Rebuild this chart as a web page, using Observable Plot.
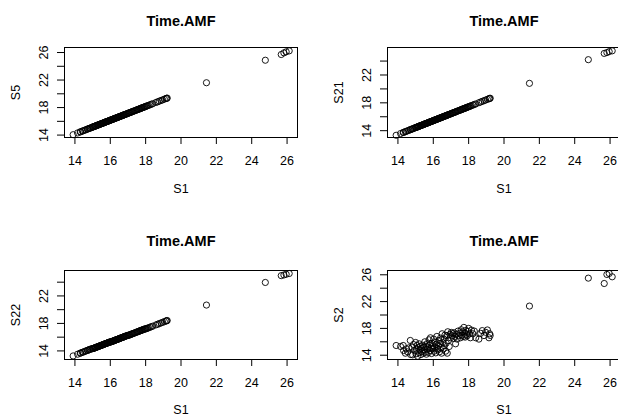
<!DOCTYPE html>
<html><head><meta charset="utf-8">
<script src="https://cdn.jsdelivr.net/npm/d3@7"></script>
<script src="https://cdn.jsdelivr.net/npm/@observablehq/plot@0.6"></script>
<style>
html,body{margin:0;padding:0;background:#fff;}
#chart{position:relative;width:618px;height:415px;overflow:hidden;background:#fff;}
#chart svg{position:absolute;}
</style></head><body><div id="chart"></div>
<script>
const S1 = [
13.90,14.15,14.30,14.32,14.42,14.47,14.55,14.62,14.70,14.72,
14.80,14.83,14.88,14.95,15.00,15.02,15.05,15.08,15.12,15.15,
15.18,15.20,15.24,15.27,15.30,15.33,15.36,15.40,15.43,15.46,
15.50,15.52,15.55,15.58,15.61,15.64,15.67,15.70,15.73,15.76,
15.78,15.81,15.84,15.87,15.90,15.93,15.96,15.99,16.02,16.05,
16.08,16.11,16.14,16.17,16.20,16.23,16.26,16.29,16.32,16.35,
16.38,16.41,16.44,16.47,16.50,16.53,16.56,16.60,16.63,16.66,
16.70,16.73,16.76,16.79,16.82,16.86,16.90,16.94,16.98,17.02,
17.06,17.10,17.14,17.18,17.22,17.26,17.30,17.35,17.40,17.45,
17.50,17.54,17.58,17.62,17.66,17.70,17.73,17.77,17.80,17.84,
17.88,17.92,17.96,18.00,18.05,18.10,18.16,18.24,18.32,18.40,
18.58,18.68,18.77,18.87,18.96,19.06,19.15,19.19,19.22,
21.44,24.77,25.67,25.82,25.95,26.12];

const S5 = [
14.06,14.31,14.46,14.48,14.58,14.63,14.71,14.78,14.86,14.88,
14.96,14.99,15.04,15.11,15.16,15.18,15.21,15.24,15.28,15.31,
15.34,15.36,15.40,15.43,15.46,15.49,15.52,15.56,15.59,15.62,
15.66,15.68,15.71,15.74,15.77,15.80,15.83,15.86,15.89,15.92,
15.94,15.97,16.00,16.03,16.06,16.09,16.12,16.15,16.18,16.21,
16.24,16.27,16.30,16.33,16.36,16.39,16.42,16.45,16.48,16.51,
16.54,16.57,16.60,16.63,16.66,16.69,16.72,16.76,16.79,16.82,
16.86,16.89,16.92,16.95,16.98,17.02,17.06,17.10,17.14,17.18,
17.22,17.26,17.30,17.34,17.38,17.42,17.46,17.51,17.56,17.61,
17.66,17.70,17.74,17.78,17.82,17.86,17.89,17.93,17.96,18.00,
18.04,18.08,18.12,18.16,18.21,18.26,18.32,18.40,18.48,18.56,
18.74,18.84,18.93,19.03,19.12,19.22,19.31,19.35,19.38,
21.61,24.88,25.71,25.95,26.10,26.24];

const S21 = [
13.34,13.59,13.74,13.76,13.86,13.91,13.99,14.06,14.14,14.16,
14.24,14.27,14.32,14.39,14.44,14.46,14.49,14.52,14.56,14.59,
14.62,14.64,14.68,14.71,14.74,14.77,14.80,14.84,14.87,14.90,
14.94,14.96,14.99,15.02,15.05,15.08,15.11,15.14,15.17,15.20,
15.22,15.25,15.28,15.31,15.34,15.37,15.40,15.43,15.46,15.49,
15.52,15.55,15.58,15.61,15.64,15.67,15.70,15.73,15.76,15.79,
15.82,15.85,15.88,15.91,15.94,15.97,16.00,16.04,16.07,16.10,
16.14,16.17,16.20,16.23,16.26,16.30,16.34,16.38,16.42,16.46,
16.50,16.54,16.58,16.62,16.66,16.70,16.74,16.79,16.84,16.89,
16.94,16.98,17.02,17.06,17.10,17.14,17.17,17.21,17.24,17.28,
17.32,17.36,17.40,17.44,17.49,17.54,17.60,17.68,17.76,17.84,
18.02,18.12,18.21,18.31,18.40,18.50,18.59,18.63,18.66,
20.80,24.20,25.10,25.22,25.36,25.47];

const S22 = [
13.27,13.52,13.67,13.69,13.79,13.84,13.92,13.99,14.07,14.09,
14.17,14.20,14.25,14.32,14.32,14.34,14.37,14.40,14.44,14.47,
14.50,14.52,14.56,14.59,14.62,14.65,14.68,14.72,14.75,14.78,
14.82,14.84,14.87,14.90,14.93,14.96,14.99,15.02,15.05,15.08,
15.10,15.13,15.16,15.19,15.22,15.25,15.28,15.31,15.30,15.33,
15.36,15.39,15.42,15.45,15.48,15.51,15.54,15.57,15.60,15.63,
15.66,15.69,15.72,15.75,15.78,15.81,15.84,15.88,15.91,15.94,
15.98,16.01,16.04,16.07,16.10,16.14,16.18,16.22,16.26,16.26,
16.30,16.34,16.38,16.42,16.46,16.50,16.54,16.59,16.64,16.69,
16.74,16.78,16.82,16.86,16.90,16.94,16.97,17.01,17.04,17.08,
17.12,17.16,17.20,17.20,17.25,17.30,17.36,17.44,17.52,17.60,
17.78,17.88,17.97,18.07,18.16,18.26,18.35,18.39,18.42,
20.67,23.96,24.95,25.05,25.15,25.26];

const S2 = [
15.45,15.30,15.45,14.70,14.30,14.95,14.50,15.10,16.20,14.10,
15.20,14.05,15.60,14.70,15.90,14.20,14.90,15.45,13.85,15.10,
14.40,15.70,14.80,15.30,14.10,15.00,14.55,15.50,14.30,15.20,
14.80,16.00,14.45,15.35,14.15,15.70,14.90,15.10,14.40,16.30,
15.55,14.70,16.60,15.05,14.25,15.80,14.95,15.40,16.40,14.60,
15.20,15.90,14.35,15.60,16.80,15.00,14.80,15.45,16.20,14.50,
15.75,16.55,15.15,14.30,17.20,15.90,14.90,16.40,15.40,17.00,
14.60,15.80,16.90,14.30,17.50,16.20,15.30,17.10,16.60,17.40,
16.90,17.20,16.50,17.35,16.80,15.70,17.10,16.40,17.60,16.90,
17.30,16.60,17.80,17.00,17.50,16.80,18.15,17.30,16.70,17.70,
17.10,16.90,17.55,18.00,17.20,16.60,17.75,17.20,17.60,16.60,
16.40,17.27,17.67,16.93,17.42,17.77,16.60,17.20,16.95,
21.33,25.50,24.70,26.05,26.20,25.70];

const title = "Time.AMF";
const xLabel = "S1";
const xTicks = [14,16,18,20,22,24,26];
const xTickLabels = [14,16,18,20,22,24,26];
const yTicksLong = [14,16,18,20,22,24,26];
const yTickLabelsLong = [14,18,22,26];
const yTicksShort = [14,16,18,20,22,24];
const yTickLabelsShort = [14,18,22];

const font = "'Liberation Sans', Arial, Helvetica, sans-serif";
const fs = 12.5;

function panel(o) {
  const data = S1.map((x, i) => ({x, y: o.yVals[i]}));
  const svg = Plot.plot({
    width: o.width, height: o.height,
    marginLeft: o.mL, marginRight: o.mR, marginTop: o.mT, marginBottom: o.mB,
    style: {fontFamily: font, fontSize: fs + "px", background: "transparent", overflow: "visible", color: "black"},
    x: {domain: [13.41, 26.59], ticks: xTicks, tickSize: 7, tickFormat: () => "", label: null},
    y: {domain: o.yDomain, ticks: o.yTicks, tickSize: 7, tickFormat: () => "", label: null},
    marks: [
      Plot.frame({stroke: "black", strokeWidth: 1}),
      Plot.dot(data, {x: "x", y: "y", r: 3.1, stroke: "black", strokeWidth: 0.9, fill: "none"}),
      Plot.text(xTickLabels, {x: d => d, text: d => String(d), frameAnchor: "bottom", dy: 23, lineAnchor: "middle", fontSize: fs, fill: "black"}),
      Plot.text(o.yTickLabels, {y: d => d, text: d => String(d), frameAnchor: "left", dx: -21, rotate: -90, textAnchor: "middle", lineAnchor: "middle", fontSize: fs, fill: "black"}),
      Plot.text([title], {text: d => d, frameAnchor: "top", dy: o.titleDy, fontWeight: "bold", fontSize: 14.5, lineAnchor: "middle", fill: "black"}),
      Plot.text([xLabel], {text: d => d, frameAnchor: "bottom", dy: o.xLabelDy, lineAnchor: "middle", fontSize: fs, fill: "black"}),
      Plot.text([o.yLabel], {text: d => d, frameAnchor: "left", dx: -49, rotate: -90, textAnchor: "middle", lineAnchor: "middle", fontSize: fs, fill: "black"})
    ]
  });
  svg.style.left = o.left + "px";
  svg.style.top = o.top + "px";
  document.getElementById("chart").appendChild(svg);
}

panel({yVals: S5, yLabel: "S5", yDomain: [13.65, 26.73], yTicks: yTicksLong, yTickLabels: yTickLabelsLong,
  left: 0, top: 0, width: 309, height: 207, mL: 64, mR: 12, mT: 47, mB: 70, titleDy: -26, xLabelDy: 51});
panel({yVals: S21, yLabel: "S21", yDomain: [13.02, 25.95], yTicks: yTicksShort, yTickLabels: yTickLabelsShort,
  left: 309, top: 0, width: 311, height: 207, mL: 78, mR: 0, mT: 47, mB: 70, titleDy: -26, xLabelDy: 51});
panel({yVals: S22, yLabel: "S22", yDomain: [12.75, 25.7], yTicks: yTicksShort, yTickLabels: yTickLabelsShort,
  left: 0, top: 207, width: 309, height: 208, mL: 64, mR: 12, mT: 63, mB: 56, titleDy: -29, xLabelDy: 50});
panel({yVals: S2, yLabel: "S2", yDomain: [13.36, 26.64], yTicks: yTicksLong, yTickLabels: yTickLabelsLong,
  left: 309, top: 207, width: 311, height: 208, mL: 78, mR: 0, mT: 63, mB: 56, titleDy: -29, xLabelDy: 50});
</script></body></html>
